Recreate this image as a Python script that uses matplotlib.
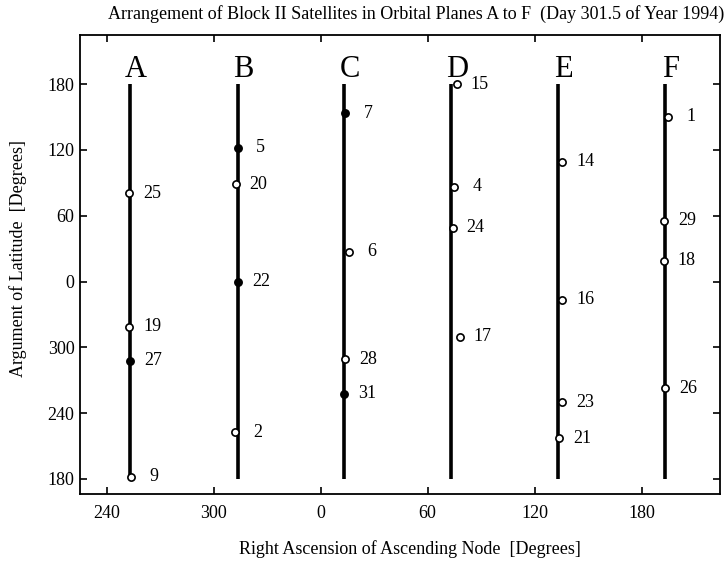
import numpy as np
import matplotlib
matplotlib.use("Agg")
import matplotlib.pyplot as plt

# Orbital plane letters and nominal right ascension of each plane [deg]
planes = ["A", "B", "C", "D", "E", "F"]
plane_ra = [253.3, 313.5, 13.3, 73.3, 133.0, 193.1]

# Satellite numbers, plane, right ascension and argument of latitude [deg]
sat_ids   = [25, 19, 27, 9, 5, 20, 22, 2, 7, 6, 28, 31,
             15, 4, 24, 17, 14, 16, 23, 21, 1, 29, 18, 26]
sat_ra    = [252.7, 252.5, 253.1, 253.6, 313.5, 312.3, 313.5, 311.9,
             13.6, 15.9, 13.6, 13.1, 76.3, 74.9, 74.0, 78.1,
             135.5, 135.5, 135.5, 133.6, 194.9, 192.5, 192.5, 193.4]
sat_lat   = [80.4, 318.9, 287.6, 182.2, 122.0, 88.6, 359.9, 222.6,
             153.3, 27.2, 289.2, 257.5, 179.7, 86.4, 49.1, 309.7,
             109.2, 343.2, 250.0, 217.2, 150.2, 55.4, 18.7, 262.7]
sat_filled = [27, 5, 22, 7, 31]

xticks = [240, 300, 0, 60, 120, 180]
yticks = [180, 240, 300, 0, 60, 120, 180]


def unwrap_ra(v):
    v = np.asarray(v, dtype=float)
    return np.where(v < 225, v + 360, v)


def unwrap_lat(v):
    v = np.asarray(v, dtype=float)
    return np.where(v < 180, v + 360, v)


plt.rcParams.update({
    "font.family": ["Liberation Serif", "DejaVu Serif"],
    "font.size": 13,
    "axes.linewidth": 1.3,
})

fig = plt.figure(figsize=(7.28, 5.61), dpi=100)
ax = fig.add_axes([80/728, 1 - 494/561, 640/728, 459/561])

# plane lines from 180 round to 180
x_planes = unwrap_ra(plane_ra)
for name, x in zip(planes, x_planes):
    ax.plot([x, x], [180, 540], color="black", lw=2.6, solid_capstyle="butt", zorder=2)
    ax.text(x + 3, 553, name, ha="center", va="center", fontsize=22)

xs = unwrap_ra(sat_ra)
ys = unwrap_lat(sat_lat)
for sid, x, y in zip(sat_ids, xs, ys):
    fc = "black" if sid in sat_filled else "white"
    ax.plot(x, y, "o", ms=5.2, mfc=fc, mec="black", mew=1.2, zorder=3)
    ax.text(x + 12.9, y, str(sid), ha="center", va="center", fontsize=13)

ax.set_xlim(225, 584)
ax.set_ylim(166.3, 584.7)

xt_pos = unwrap_ra(xticks)
ax.set_xticks(xt_pos)
ax.set_xticklabels([str(t) for t in xticks])
yt_pos = [180 + 60 * i for i in range(len(yticks))]
ax.set_yticks(yt_pos)
ax.set_yticklabels([str(t) for t in yticks])

ax.tick_params(direction="in", length=5, width=1.2, top=True, right=True,
               labelsize=13)
ax.tick_params(axis="x", pad=8)
ax.tick_params(axis="y", pad=4)

fig.text(416/728, 1 - 14/561,
         "Arrangement of Block II Satellites in Orbital Planes A to F  (Day 301.5 of Year 1994)",
         ha="center", va="center", fontsize=13)
fig.text(410/728, 1 - 549/561, "Right Ascension of Ascending Node  [Degrees]",
         ha="center", va="center", fontsize=13)
fig.text(18/728, 1 - 258/561, "Argument of Latitude  [Degrees]",
         ha="center", va="center", rotation=90, fontsize=13)

fig.savefig("out.png", dpi=100)
